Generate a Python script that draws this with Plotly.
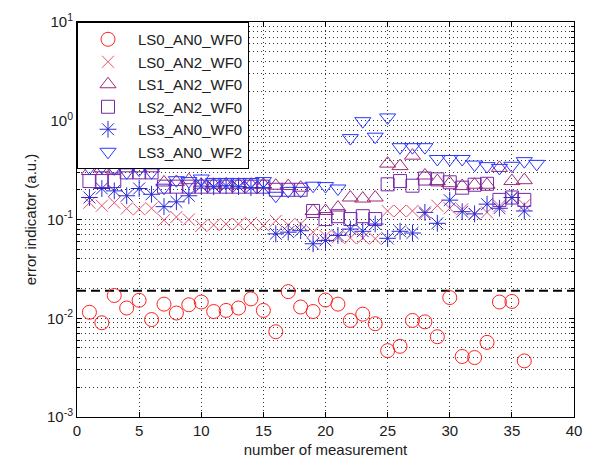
import plotly.graph_objects as go

# measurement index for each series
n36 = list(range(1, 37))
n37 = list(range(1, 38))

ls0_an0_wf0 = [0.0115, 0.0090, 0.0170, 0.0127, 0.0152, 0.0097, 0.0139, 0.0113, 0.0137, 0.0146,
               0.0117, 0.0120, 0.0127, 0.0157, 0.0120, 0.0073, 0.0186, 0.0130, 0.0117, 0.0153,
               0.0139, 0.0095, 0.0110, 0.0088, 0.0047, 0.0052, 0.0095, 0.0092, 0.0065, 0.0162,
               0.0041, 0.0040, 0.0057, 0.0146, 0.0148, 0.0037]

ls0_an2_wf0 = [0.148, 0.138, 0.148, 0.129, 0.127, 0.130, 0.0985, 0.106, 0.100, 0.086,
               0.088, 0.090, 0.090, 0.092, 0.087, 0.097, 0.088, 0.090, 0.0744, 0.068,
               0.066, 0.065, 0.065, 0.064, 0.122, 0.122, 0.122, 0.114, 0.138, 0.130,
               0.127, 0.114, 0.118, 0.137, 0.165, 0.140]

ls1_an2_wf0 = [0.31, 0.33, 0.32, 0.33, 0.33, 0.33, 0.237, 0.24, 0.25, 0.225,
               0.225, 0.225, 0.225, 0.225, 0.225, 0.22, 0.218, 0.21, 0.122, 0.122,
               0.132, 0.167, 0.163, 0.167, 0.368, 0.347, 0.443, 0.279, 0.245, 0.233,
               0.218, 0.225, 0.225, 0.333, 0.245, 0.25]

ls2_an2_wf0 = [0.245, 0.245, 0.245, 0.30, 0.30, 0.30, 0.215, 0.215, 0.215, 0.215,
               0.215, 0.215, 0.215, 0.215, 0.215, 0.20, 0.20, 0.20, 0.122, 0.101,
               0.108, 0.101, 0.108, 0.101, 0.227, 0.245, 0.220, 0.260, 0.255, 0.238,
               0.210, 0.225, 0.230, 0.158, 0.167, 0.158]

ls3_an0_wf0 = [0.167, 0.206, 0.195, 0.174, 0.206, 0.180, 0.135, 0.151, 0.174, 0.218,
               0.215, 0.220, 0.215, 0.210, 0.210, 0.0716, 0.0744, 0.077, 0.0568, 0.0614,
               0.069, 0.080, 0.076, 0.090, 0.0645, 0.076, 0.073, 0.118, 0.0915, 0.157,
               0.120, 0.114, 0.143, 0.130, 0.167, 0.122]

ls3_an0_wf2 = [0.333, 0.34, 0.33, 0.30, 0.32, 0.30, 0.21, 0.25, 0.245, 0.26,
               0.24, 0.24, 0.24, 0.24, 0.245, 0.174, 0.195, 0.195, 0.22, 0.218,
               0.206, 0.667, 0.99, 0.69, 1.08, 0.54, 0.54, 0.54, 0.41, 0.41,
               0.41, 0.36, 0.347, 0.333, 0.35, 0.39, 0.366]

threshold = 0.019

y_tickvals = [0.001, 0.01, 0.1, 1, 10]
y_ticktext = ["10<sup>-3</sup>", "10<sup>-2</sup>", "10<sup>-1</sup>", "10<sup>0</sup>", "10<sup>1</sup>"]
x_tickvals = [0, 5, 10, 15, 20, 25, 30, 35, 40]

series = [
    ("LS0_AN0_WF0", n36, ls0_an0_wf0, "circle-open", "#ff2020", 14),
    ("LS0_AN2_WF0", n36, ls0_an2_wf0, "x-thin-open", "#e8506e", 12),
    ("LS1_AN2_WF0", n36, ls1_an2_wf0, "triangle-up-open", "#a02878", 14),
    ("LS2_AN2_WF0", n36, ls2_an2_wf0, "square-open", "#7428a8", 13),
    ("LS3_AN0_WF0", n36, ls3_an0_wf0, "asterisk-open", "#2828d8", 14),
    ("LS3_AN0_WF2", n37, ls3_an0_wf2, "triangle-down-open", "#2838ff", 14),
]

fig = go.Figure()

# threshold line
fig.add_trace(go.Scatter(x=[0, 40], y=[threshold, threshold], mode="lines",
                         line=dict(color="black", width=2, dash="9px,5px"),
                         showlegend=False, hoverinfo="skip"))

for name, xs, ys, sym, col, size in series:
    fig.add_trace(go.Scatter(
        x=xs, y=ys, mode="markers", name=name,
        marker=dict(symbol=sym, size=size, color=col, line=dict(color=col, width=1)),
    ))

family = "Liberation Sans, Arial, sans-serif"
font = dict(family=family, size=15, color="#202020")
grid_dash = "1px,3px"

fig.update_layout(
    width=593, height=467,
    margin=dict(l=77, r=11, t=22, b=47),
    paper_bgcolor="white", plot_bgcolor="white",
    font=font,
    showlegend=True,
    legend=dict(x=0, y=1, xanchor="left", yanchor="top",
                bgcolor="white", bordercolor="black", borderwidth=1,
                font=dict(family=family, size=15, color="#202020"),
                itemwidth=50, tracegroupgap=0),
)

fig.update_xaxes(
    range=[0, 40], tickvals=x_tickvals,
    showline=True, linecolor="black", linewidth=1, mirror="ticks",
    ticks="inside", ticklen=5, tickcolor="black",
    showgrid=True, gridcolor="#333333", griddash=grid_dash, gridwidth=1,
    zeroline=False,
    title=dict(text="number of measurement", font=font, standoff=6),
)

fig.update_yaxes(
    type="log", range=[-3, 1],
    tickvals=y_tickvals, ticktext=y_ticktext,
    showline=True, linecolor="black", linewidth=1, mirror="ticks",
    ticks="inside", ticklen=5, tickcolor="black",
    showgrid=True, gridcolor="#333333", griddash=grid_dash, gridwidth=1,
    minor=dict(dtick="D1", ticks="inside", ticklen=3, tickcolor="black",
               showgrid=True, gridcolor="#333333", griddash=grid_dash, gridwidth=1),
    zeroline=False,
    title=dict(text="error indicator (a.u.)", font=font, standoff=6),
)

fig.write_html("out.html")
